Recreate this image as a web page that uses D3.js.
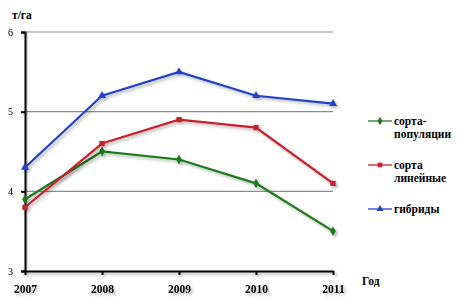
<!DOCTYPE html>
<html>
<head>
<meta charset="utf-8">
<script src="https://cdn.jsdelivr.net/npm/d3@7"></script>
<style>
  body { margin: 0; background: #fff; }
  svg text { font-family: "Liberation Serif", "Times New Roman", serif; }
</style>
</head>
<body>
<div class="chart"></div>
<script>
const years = [2007, 2008, 2009, 2010, 2011];
const yTicks = [3, 4, 5, 6];
const populations = [3.9, 4.5, 4.4, 4.1, 3.5];
const linear = [3.8, 4.6, 4.9, 4.8, 4.1];
const hybrids = [4.3, 5.2, 5.5, 5.2, 5.1];
const seriesNames = [["сорта-", "популяции"], ["сорта", "линейные"], ["гибриды"]];

const series = [
  { name: seriesNames[0], values: populations, color: '#1f7a1f', symbol: d3.symbolDiamond },
  { name: seriesNames[1], values: linear, color: '#c8202c', symbol: d3.symbolSquare },
  { name: seriesNames[2], values: hybrids, color: '#2440c8', symbol: d3.symbolTriangle }
];

const width = 459, height = 308;
const svg = d3.select('div.chart').append('svg')
    .attr('width', width)
    .attr('height', height);

const defs = svg.append('defs');
const f = defs.append('filter').attr('id', 'shadow')
    .attr('x', '-10%').attr('y', '-10%').attr('width', '120%').attr('height', '130%');
f.append('feGaussianBlur').attr('in', 'SourceAlpha').attr('stdDeviation', 1.6).attr('result', 'b');
f.append('feOffset').attr('in', 'b').attr('dx', 2).attr('dy', 2).attr('result', 'o');
f.append('feComponentTransfer').attr('in', 'o').attr('result', 's')
  .append('feFuncA').attr('type', 'linear').attr('slope', 0.3);
const m = f.append('feMerge');
m.append('feMergeNode').attr('in', 's');
m.append('feMergeNode').attr('in', 'SourceGraphic');

var x = d3.scalePoint()
    .domain(years)
    .range([25, 333]);

var y = d3.scaleLinear()
    .domain([3, 6])
    .range([271, 32]);

// grid lines
svg.append('g')
  .selectAll('line')
  .data(yTicks.filter(d => d > 3))
  .enter()
  .append('line')
    .attr('x1', 25).attr('x2', 333)
    .attr('y1', d => y(d)).attr('y2', d => y(d))
    .attr('stroke', '#8c8c8c')
    .attr('stroke-width', 1.2);

// axes
const yAxis = svg.append('g')
    .attr('transform', `translate(${x(2007)},0)`)
    .attr('filter', 'url(#shadow)')
    .call(d3.axisLeft(y).tickValues(yTicks).tickSize(4).tickPadding(8).tickFormat(d3.format('d')));
yAxis.attr('font-family', null);
yAxis.select('.domain').attr('stroke', '#000').attr('stroke-width', 2);
yAxis.selectAll('.tick line').attr('stroke', '#000').attr('stroke-width', 2);
yAxis.selectAll('.tick text')
    .attr('font-size', 10)
    .attr('fill', '#000');

const xAxis = svg.append('g')
    .attr('transform', `translate(0,${y(3)})`)
    .attr('filter', 'url(#shadow)')
    .call(d3.axisBottom(x).tickSize(4).tickSizeOuter(0).tickPadding(10).tickFormat(d3.format('d')));
xAxis.attr('font-family', null);
xAxis.select('.domain').attr('stroke', '#000').attr('stroke-width', 2);
xAxis.selectAll('.tick line').attr('stroke', '#000').attr('stroke-width', 2);
xAxis.selectAll('.tick text')
    .attr('font-size', 11.5)
    .attr('font-weight', 'bold')
    .attr('fill', '#000');

svg.append('text')
    .attr('x', 12).attr('y', 19)
    .attr('font-size', 11.5).attr('font-weight', 'bold')
    .text('т/га');

svg.append('text')
    .attr('x', 362).attr('y', 285)
    .attr('font-size', 11.5).attr('font-weight', 'bold')
    .text('Год');

// lines
const line = d3.line()
    .x((d, i) => x(years[i]))
    .y(d => y(d));

series.forEach(s => {
  const g = svg.append('g').attr('filter', 'url(#shadow)');
  g.append('path')
      .datum(s.values)
      .attr('d', line)
      .attr('fill', 'none')
      .attr('stroke', s.color)
      .attr('stroke-width', 2.2);
  g.selectAll('path.pt')
      .data(s.values)
      .enter()
      .append('path')
        .attr('class', 'pt')
        .attr('transform', (d, i) => `translate(${x(years[i])},${y(d)})`)
        .attr('d', d3.symbol().type(s.symbol).size(28))
        .attr('fill', s.color);
});

// legend
const legendY = [121, 165, 209];
series.forEach((s, i) => {
  const g = svg.append('g').attr('transform', `translate(368,${legendY[i]})`);
  g.append('line')
      .attr('x1', 0).attr('x2', 24)
      .attr('stroke', s.color).attr('stroke-width', 1.3);
  g.append('path')
      .attr('transform', 'translate(12,0)')
      .attr('d', d3.symbol().type(s.symbol).size(22))
      .attr('fill', s.color);
  s.name.forEach((t, j) => {
    g.append('text')
        .attr('x', 26).attr('y', 4 + j * 13)
        .attr('font-size', 11.5).attr('font-weight', 'bold')
        .text(t);
  });
});
</script>
</body>
</html>
